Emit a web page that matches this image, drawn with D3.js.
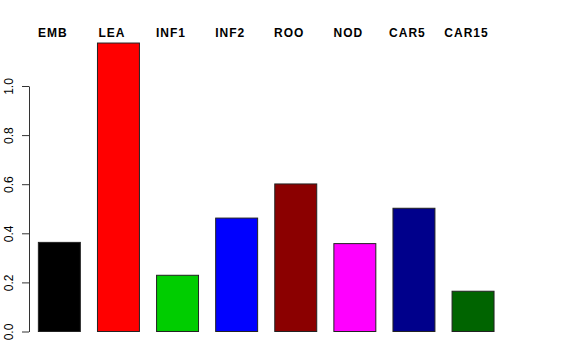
<!DOCTYPE html>
<head>
  <script src="https://d3js.org/d3.v7.min.js"></script>
  <style>
    body { margin: 0; background: #fff; }
    text { font-family: "Liberation Sans", Arial, sans-serif; }
  </style>
</head>
<body>
  <svg width="576" height="360"></svg>
  <script>
    var categories = ["EMB", "LEA", "INF1", "INF2", "ROO", "NOD", "CAR5", "CAR15"];
    var values = [0.363, 1.175, 0.229, 0.462, 0.601, 0.358, 0.502, 0.164];
    var colors = ["#000000", "#FF0000", "#00CD00", "#0000FF", "#8B0000", "#FF00FF", "#00008B", "#006400"];
    var yTicks = [0, 0.2, 0.4, 0.6, 0.8, 1.0];

    var svg = d3.select("svg");

    var x = d3.scaleBand()
        .domain(categories)
        .range([29.8, 502.6])
        .paddingInner(0.29)
        .paddingOuter(0.145);

    var y = d3.scaleLinear()
        .domain([0, 1])
        .range([331.5, 86]);

    // bars
    svg.append("g")
      .selectAll("rect")
      .data(categories)
      .enter()
      .append("rect")
        .attr("x", function(d) { return x(d); })
        .attr("y", function(d, i) { return y(values[i]); })
        .attr("width", x.bandwidth())
        .attr("height", function(d, i) { return y(0) - y(values[i]); })
        .attr("fill", function(d, i) { return colors[i]; })
        .attr("stroke", "#222")
        .attr("stroke-width", 1);

    // category labels on top
    svg.append("g")
      .selectAll("text")
      .data(categories)
      .enter()
      .append("text")
        .attr("x", function(d) { return x(d) + x.bandwidth() / 2 - 6.5; })
        .attr("y", 37)
        .attr("text-anchor", "middle")
        .attr("font-size", 12)
        .attr("font-weight", "bold")
        .attr("letter-spacing", 1)
        .attr("fill", "#000")
        .text(function(d) { return d; });

    // y axis
    var yAxis = d3.axisLeft(y)
        .tickValues(yTicks)
        .tickFormat(d3.format(".1f"))
        .tickSize(7)
        .tickSizeOuter(0);

    var ag = svg.append("g")
        .attr("transform", "translate(29,0)")
        .call(yAxis);

    ag.select(".domain").attr("stroke", "#333");
    ag.selectAll(".tick line").attr("stroke", "#333");
    ag.selectAll(".tick text")
        .attr("x", null)
        .attr("dy", null)
        .attr("transform", "translate(-16,0) rotate(-90)")
        .attr("text-anchor", "middle")
        .attr("font-size", 12)
        .attr("font-family", "Liberation Sans, Arial, sans-serif")
        .attr("fill", "#000");
  </script>
</body>
</html>
